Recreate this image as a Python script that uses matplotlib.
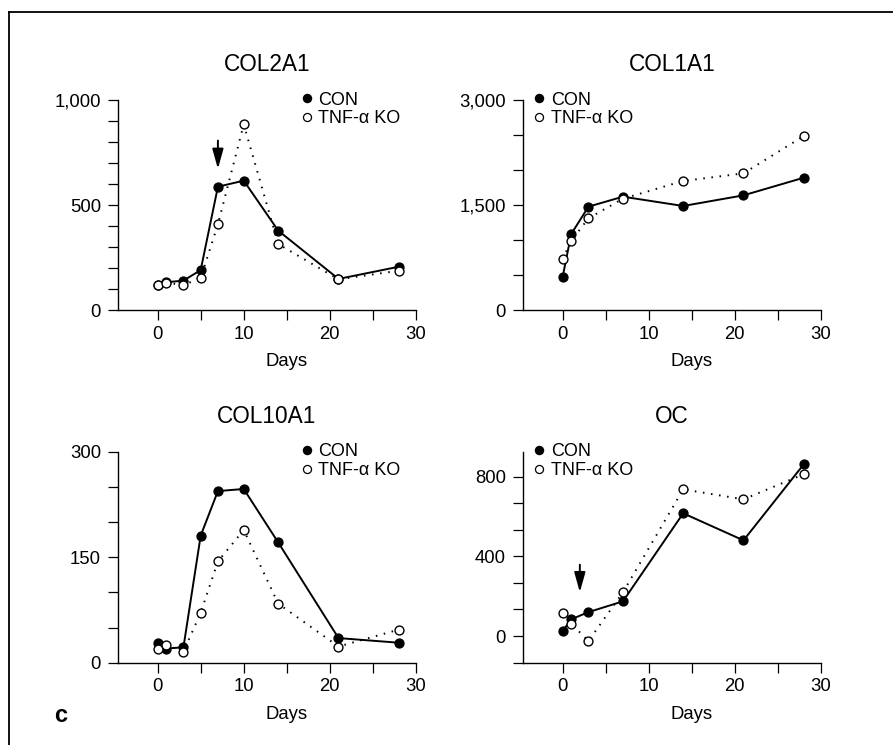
import numpy as np
import matplotlib.pyplot as plt
from matplotlib.lines import Line2D
from matplotlib.ticker import MultipleLocator, FuncFormatter

plt.rcParams['font.family'] = ['Liberation Sans', 'DejaVu Sans']

# sampling days
days_a = [0, 1, 3, 5, 7, 10, 14, 21, 28]
days_b = [0, 1, 3, 7, 14, 21, 28]

# COL2A1
col2_con = [120, 132, 140, 190, 587, 616, 378, 148, 206]
col2_ko = [119, 130, 119, 152, 408, 884, 314, 146, 187]
# COL1A1
col1_con = [471, 1086, 1476, 1619, 1486, 1638, 1890]
col1_ko = [724, 990, 1310, 1590, 1843, 1952, 2486]
# COL10A1
col10_con = [28.4, 20, 22, 180.6, 244, 247, 171, 35, 28.4]
col10_ko = [19.5, 25, 15.6, 71, 144, 188.6, 84, 23, 47]
# OC
oc_con = [25, 84, 120, 174, 616, 480, 862]
oc_ko = [114, 62, -25, 219, 736, 686, 812]

W, H = 893, 745
fig = plt.figure(figsize=(W / 100, H / 100), dpi=100)

def px_axes(left, top, right, bottom):
	return fig.add_axes([left / W, 1 - bottom / H, (right - left) / W, (bottom - top) / H])

panels = [
	# title, days, con, ko, ylim, major, minor, box, legend x
	('COL2A1', days_a, col2_con, col2_ko, (0, 1000), 500, 100, (118, 100, 416, 310), 0.615),
	('COL1A1', days_b, col1_con, col1_ko, (0, 3000), 1500, 500, (523, 100, 821, 310), 0.037),
	('COL10A1', days_a, col10_con, col10_ko, (0, 300), 150, 50, (118, 451.7, 416, 662.7), 0.615),
	('OC', days_b, oc_con, oc_ko, (-400 / 3 - 0.5, 925), 400, 400 / 3, (523, 451.7, 821, 662.7), 0.037),
]

axes = []
for title, d, con, ko, ylim, major, minor, box, lx in panels:
	ax = px_axes(*box)
	ax.plot(d, con, '-', color='k', lw=1.4, marker='o', ms=6.4, mfc='k', mec='k', zorder=3)
	ax.plot(d, ko, color='k', lw=1.4, ls=(0, (0.8, 3.4)), marker='o', ms=6.4,
			mfc='white', mec='k', mew=1.0, zorder=4)
	ax.set_xlim(-4.6, 30)
	ax.set_ylim(*ylim)
	ax.xaxis.set_major_locator(MultipleLocator(10))
	ax.xaxis.set_minor_locator(MultipleLocator(5))
	ax.yaxis.set_major_locator(MultipleLocator(major))
	ax.yaxis.set_minor_locator(MultipleLocator(minor))
	ax.yaxis.set_major_formatter(FuncFormatter(lambda v, p: f'{v:,.0f}'))
	ax.spines['top'].set_visible(False)
	ax.spines['right'].set_visible(False)
	for s in ['left', 'bottom']:
		ax.spines[s].set_linewidth(1.0)
	ax.tick_params(which='both', direction='out', length=7.2, width=0.9, labelsize=13.3)
	ax.tick_params(axis='x', pad=4)
	ax.tick_params(axis='y', pad=5)
	ax.set_title(title, fontsize=16.3, pad=21)
	ax.set_xlabel('Days', fontsize=13.3)
	ax.xaxis.set_label_coords((15 + 4.6) / 34.6, -0.205)
	handles = [Line2D([], [], ls='none', marker='o', ms=5.8, mfc='k', mec='k'),
			   Line2D([], [], ls='none', marker='o', ms=5.8, mfc='white', mec='k', mew=0.9)]
	ax.legend(handles, ['CON', 'TNF-\u03b1 KO'], loc='upper left', bbox_to_anchor=(lx, 1.04),
			  frameon=False, fontsize=13, handlelength=0.6, handletextpad=0.32,
			  labelspacing=0.1, borderpad=0, borderaxespad=0)
	axes.append(ax)

# arrows marking the onset
arrow = dict(arrowstyle='-|>,head_length=0.75,head_width=0.21', color='k', lw=1.4, mutation_scale=16)
axes[0].annotate('', xy=(7, 659), xytext=(7, 820), arrowprops=arrow)
axes[3].annotate('', xy=(2, 206), xytext=(2, 372), arrowprops=arrow)

# panel letter and frame
fig.text(61 / W, 1 - 716 / H, 'c', fontsize=17, fontweight='bold', ha='center', va='center')
fig.add_artist(Line2D([9 / W, 9 / W], [0, 1 - 12 / H], color='k', lw=1.3, transform=fig.transFigure))
fig.add_artist(Line2D([9 / W, 1], [1 - 12 / H, 1 - 12 / H], color='k', lw=1.3, transform=fig.transFigure))

fig.savefig('out.png', dpi=100)
